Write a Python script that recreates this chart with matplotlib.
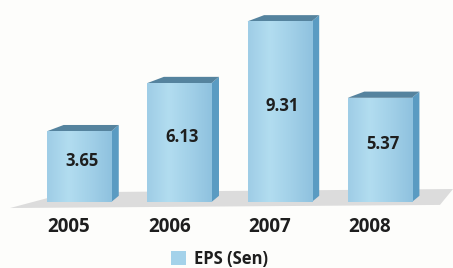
import matplotlib
matplotlib.use("Agg")
import numpy as np
import matplotlib.pyplot as plt
from matplotlib.patches import Polygon
from matplotlib.colors import LinearSegmentedColormap

years = ["2005", "2006", "2007", "2008"]
eps = [3.65, 6.13, 9.31, 5.37]
series_name = "EPS (Sen)"

FRONT = "#a4d2ea"
SIDE = "#5a9bc2"
TOP = "#55839e"
FLOOR = "#dcdcdc"

front_cmap = LinearSegmentedColormap.from_list("front", ["#9fcde6", "#b2ddf0", "#a2d0e8", "#8fc2df"])

plt.rcParams["font.family"] = ["Open Sans", "DejaVu Sans"]

fig = plt.figure(figsize=(4.53, 2.68), dpi=100)
fig.patch.set_facecolor("#fdfdfb")
ax = fig.add_axes([0, 0, 1, 1])
ax.set_facecolor("#fdfdfb")

# axis ranges chosen so 1 x-unit ~ 100 px and 1 y-unit ~ 19.4 px
ax.set_xlim(-0.79, 3.73)
ax.set_ylim(-3.40, 10.41)
ax.axis("off")

width = 0.64
dx, dy = 0.075, 0.32   # depth offset of the 3d look
x = list(range(len(years)))

# floor
floor = Polygon([(-0.69, -0.31), (3.6, -0.15), (3.73, 0.67), (-0.1, 0.5)],
                closed=True, facecolor=FLOOR, edgecolor="none", zorder=1)
ax.add_patch(floor)

bars = ax.bar(x, eps, width=width, color=FRONT, edgecolor="none", zorder=3,
              label=series_name)
grad = np.linspace(0, 1, 64).reshape(1, -1)
for xi, v, b in zip(x, eps, bars):
    left, right = xi - width / 2, xi + width / 2
    im = ax.imshow(grad, cmap=front_cmap, aspect="auto", extent=(left, right, 0, v),
                   zorder=3.1, interpolation="bicubic")
    im.set_clip_path(b)
    side = Polygon([(right, 0), (right + dx, dy), (right + dx, v + dy), (right, v)],
                   closed=True, facecolor=SIDE, edgecolor="none", zorder=3)
    top = Polygon([(left, v), (left + dx * 2.2, v + dy), (right + dx, v + dy), (right, v)],
                  closed=True, facecolor=TOP, edgecolor="none", zorder=3)
    ax.add_patch(side)
    ax.add_patch(top)
    ax.text(xi + 0.03, v / 2 + 0.3, f"{v:.2f}", ha="center", va="center",
            fontsize=12, fontweight="bold", color="#1e1e1e", zorder=4)
    ax.text(xi - 0.1, -1.3, years[xi], ha="center", va="center",
            fontsize=13.5, fontweight="bold", color="#1e1e1e")

ax.set_xlim(-0.79, 3.73)
ax.set_ylim(-3.40, 10.41)

ax.legend(loc="center", bbox_to_anchor=(0.485, 0.035), frameon=False,
          handlelength=0.9, handleheight=0.9, handletextpad=0.5,
          prop={"size": 12, "weight": "bold"}, labelcolor="#1e1e1e")

fig.savefig("out.png", dpi=100, facecolor=fig.get_facecolor())
